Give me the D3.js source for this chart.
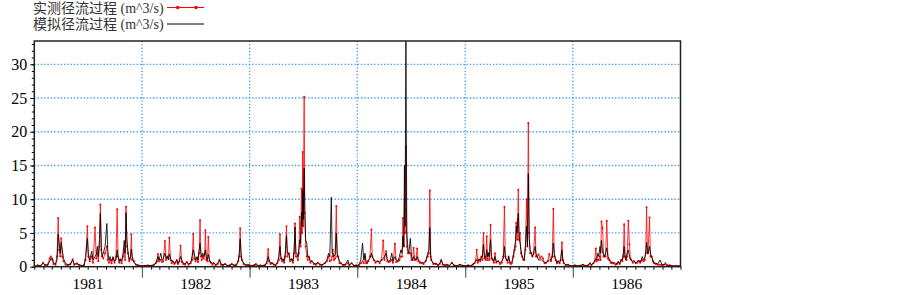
<!DOCTYPE html>
<html>
<head>
<meta charset="utf-8">
<script src="https://cdn.jsdelivr.net/npm/d3@7"></script>
<style>
body { margin: 0; background: #fff; }
</style>
</head>
<body>
<div id="chart"></div>
<script>

// rows: [day of year, observed (m^3/s), simulated (m^3/s)]
var year1981 = [[0,0.1,0.1],[12,0.2,0.1],[22,0.1,0.2],[30,0.6,0.5],[36,0.2,0.3],[45,0.3,0.2],[52,1.2,0.8],[56,1.5,1.2],[61,1.0,1.3],[65,0.4,0.6],[72,0.3,0.4],[77,1.5,1.0],[81,7.2,4.8],[84,2.5,3.5],[88,1.5,2.0],[91,4.2,3.6],[95,1.5,2.5],[99,0.8,1.2],[106,0.3,0.5],[114,0.2,0.3],[122,0.4,0.3],[130,1.1,1.0],[135,0.3,0.4],[145,0.5,0.4],[152,0.2,0.3],[160,0.1,0.2],[168,0.2,0.1],[174,1.0,1.5],[180,6.0,4.2],[183,1.5,2.0],[188,0.8,1.0],[195,1.5,2.3],[199,0.6,1.0],[206,5.8,1.5],[210,1.2,1.8],[214,2.0,3.0],[217,0.8,1.5],[221,3.0,4.0],[224,9.2,7.9],[227,2.5,3.0],[230,1.5,1.5],[234,1.2,2.0],[240,2.0,3.0],[246,3.0,6.4],[249,1.0,2.5],[253,0.6,1.0],[257,1.0,1.5],[262,0.5,0.8],[267,1.2,1.5],[272,0.6,0.8],[277,1.5,1.0],[281,8.5,2.5],[284,1.5,1.5],[288,0.6,0.8],[291,1.0,1.2],[296,0.5,0.8],[301,1.5,2.0],[305,2.5,3.9],[308,1.0,2.0],[311,8.9,8.0],[314,3.0,4.0],[318,2.0,2.0],[322,0.8,1.0],[326,1.2,1.5],[329,4.8,2.6],[332,1.0,1.5],[338,0.8,0.6],[345,0.3,0.3],[352,0.2,0.2],[360,0.1,0.1]];
var year1982 = [[0,0.1,0.1],[10,0.1,0.2],[20,0.2,0.1],[30,0.1,0.2],[40,0.3,0.2],[47,0.5,0.6],[51,0.8,1.0],[54,1.9,1.5],[58,0.8,1.0],[61,1.0,1.5],[64,1.0,2.0],[68,0.7,1.0],[72,0.8,1.2],[78,3.8,2.0],[82,1.0,1.2],[86,1.5,1.5],[90,1.2,1.0],[93,4.3,1.9],[97,1.0,1.2],[101,0.5,0.8],[105,0.8,0.8],[110,0.4,0.5],[114,0.6,0.7],[118,1.0,1.0],[122,0.4,0.5],[127,0.8,0.8],[131,3.1,1.5],[135,0.7,1.0],[140,0.4,0.6],[146,0.3,0.4],[152,0.7,0.7],[158,0.3,0.4],[165,0.5,0.6],[170,1.0,1.5],[174,4.9,2.5],[177,1.2,2.0],[182,0.8,1.0],[187,1.2,1.5],[190,0.7,1.0],[194,2.0,2.5],[197,6.9,3.5],[200,1.5,2.0],[203,1.0,1.5],[206,1.5,2.0],[210,1.2,1.5],[213,2.0,2.0],[215,5.4,2.5],[218,1.0,1.5],[222,0.8,1.0],[225,4.4,1.8],[229,0.8,1.0],[234,0.6,0.6],[239,0.3,0.5],[243,0.5,0.6],[250,0.2,0.3],[257,0.4,0.5],[263,1.0,1.0],[268,0.3,0.4],[275,0.2,0.3],[282,0.4,0.4],[290,0.1,0.2],[298,0.2,0.2],[305,0.4,0.4],[312,0.2,0.2],[320,0.3,0.2],[327,0.8,1.0],[330,1.5,2.0],[333,5.7,4.1],[336,1.5,2.0],[339,1.0,1.0],[345,0.4,0.5],[352,0.2,0.3],[360,0.3,0.2]];
var year1983 = [[0,0.2,0.2],[8,0.1,0.1],[15,0.2,0.2],[21,0.3,0.5],[28,0.1,0.2],[36,0.2,0.1],[44,0.1,0.2],[52,0.2,0.2],[58,0.5,0.6],[63,2.6,1.5],[66,0.8,1.0],[71,0.4,0.5],[76,0.5,0.6],[82,0.3,0.4],[88,0.2,0.3],[94,0.5,0.6],[99,1.0,1.5],[103,4.8,3.0],[106,1.2,1.5],[110,0.8,1.0],[113,1.0,1.2],[117,0.6,0.8],[121,1.5,2.0],[125,6.0,4.6],[128,1.5,2.0],[133,2.0,2.0],[137,0.8,1.0],[143,1.0,1.2],[147,0.6,0.8],[151,2.0,2.5],[154,6.4,5.9],[157,1.5,2.0],[160,1.5,2.0],[164,1.0,1.5],[167,2.0,2.5],[170,7.4,4.0],[173,3.0,3.5],[176,11.6,8.0],[178,5.0,6.0],[180,17.0,11.4],[182,6.0,7.0],[185,25.2,14.6],[187,8.0,9.0],[190,3.0,4.0],[194,1.5,3.5],[197,1.0,1.5],[201,1.5,1.5],[206,0.6,0.8],[211,0.8,0.8],[218,0.4,0.5],[225,0.3,0.4],[231,0.6,0.6],[238,0.3,0.4],[245,0.2,0.3],[255,0.5,0.5],[262,0.8,1.0],[268,1.5,2.0],[272,0.8,1.5],[277,1.0,10.3],[280,1.5,2.0],[282,2.5,2.0],[286,1.0,1.5],[290,1.2,1.8],[294,9.0,5.0],[297,1.5,2.0],[300,1.5,1.5],[305,0.5,0.8],[309,0.5,0.6],[316,0.2,0.3],[324,0.3,0.3],[333,0.5,1.0],[338,0.2,0.3],[346,0.5,0.5],[354,0.1,0.2],[361,0.2,0.1]];
var year1984 = [[0,0.1,0.2],[6,0.2,0.3],[12,0.5,1.0],[18,0.8,3.5],[22,0.5,1.0],[26,1.5,2.0],[30,0.5,0.8],[33,0.5,0.6],[38,0.8,1.0],[43,1.5,1.2],[48,5.5,2.0],[51,1.5,1.5],[56,1.0,1.0],[62,0.6,0.8],[70,0.8,0.8],[76,0.5,0.7],[82,1.0,1.0],[88,3.9,1.2],[92,1.0,1.5],[98,2.3,2.0],[102,0.8,1.0],[107,0.7,0.8],[112,0.8,1.0],[117,1.0,2.0],[121,0.6,0.8],[128,3.4,1.5],[132,0.7,1.0],[138,0.8,0.8],[143,1.0,1.5],[148,1.5,2.5],[152,1.5,2.0],[155,7.2,4.5],[158,3.0,3.0],[160,10.0,15.0],[162,5.0,6.0],[165,17.8,33.4],[168,3.0,5.0],[172,2.0,2.5],[175,2.0,2.0],[180,2.0,4.2],[184,1.0,1.5],[188,1.0,1.0],[191,2.8,1.5],[195,1.0,1.2],[199,1.0,1.0],[203,2.7,1.5],[207,0.8,1.0],[212,0.6,0.8],[218,0.5,0.6],[225,0.4,0.6],[232,0.8,0.8],[239,1.5,2.0],[243,2.0,2.5],[246,11.3,5.8],[249,1.5,1.5],[251,1.0,1.0],[258,0.4,0.5],[266,0.4,0.5],[274,0.2,0.3],[280,0.4,0.5],[285,1.0,1.0],[290,0.3,0.4],[297,0.2,0.2],[304,0.3,0.3],[312,0.1,0.2],[321,0.6,0.6],[328,0.2,0.2],[336,0.1,0.1],[348,0.3,0.3],[358,0.1,0.2]];
var year1985 = [[0,0.1,0.1],[10,0.2,0.2],[18,0.1,0.1],[26,0.3,0.4],[32,0.5,0.6],[36,1.0,0.8],[39,2.5,1.0],[43,0.6,0.8],[47,1.0,1.2],[51,0.8,1.0],[55,1.5,1.5],[58,1.0,1.5],[62,5.0,3.3],[65,1.2,1.5],[67,1.5,1.5],[70,1.0,1.2],[73,4.5,2.5],[76,1.0,1.5],[79,2.0,2.0],[82,1.0,1.5],[86,6.2,4.0],[89,1.2,1.5],[93,1.0,1.2],[97,0.6,0.8],[101,2.0,1.5],[105,0.6,0.8],[112,0.8,0.8],[118,0.4,0.6],[124,0.6,0.8],[129,1.5,1.2],[133,8.9,3.0],[136,1.5,1.5],[140,1.0,1.0],[144,0.6,0.8],[147,1.5,1.5],[151,0.6,0.8],[155,0.4,0.6],[159,0.6,0.8],[164,1.5,2.0],[168,2.5,3.0],[171,3.0,4.0],[173,6.5,6.0],[176,4.0,5.0],[178,7.0,6.5],[180,11.4,7.9],[183,4.0,4.0],[186,5.0,3.5],[189,2.0,2.5],[193,1.5,1.5],[197,1.0,1.2],[200,1.0,1.0],[204,2.5,3.0],[208,10.0,6.0],[211,3.0,3.0],[214,21.3,13.8],[217,5.0,4.0],[220,2.0,2.5],[224,2.0,2.0],[228,1.5,1.5],[232,2.0,2.0],[237,5.8,3.0],[240,1.5,2.0],[244,1.5,1.5],[249,1.8,1.0],[254,1.3,1.0],[259,1.5,1.0],[264,1.2,0.8],[269,0.5,0.6],[274,0.6,0.6],[280,0.8,0.8],[285,1.9,1.0],[291,0.8,1.0],[295,1.5,1.5],[299,8.6,3.5],[302,1.5,2.0],[307,1.0,1.0],[311,0.5,0.6],[315,0.8,0.8],[320,0.5,0.6],[324,1.0,1.2],[328,3.6,2.5],[331,1.0,1.0],[334,0.5,0.6],[341,0.2,0.3],[349,0.3,0.3],[357,0.1,0.1]];
var year1986 = [[0,0.1,0.1],[7,0.2,0.2],[15,0.1,0.1],[24,0.1,0.2],[35,0.3,0.3],[44,0.1,0.1],[52,0.2,0.2],[58,0.5,0.5],[63,0.2,0.3],[70,0.5,0.6],[74,0.8,0.8],[78,2.7,1.2],[81,0.8,1.0],[85,1.0,2.0],[88,1.0,1.5],[92,1.5,3.0],[94,1.0,2.0],[97,6.7,3.9],[101,5.7,2.0],[104,1.5,2.0],[107,1.5,1.5],[111,1.5,2.0],[115,6.8,2.8],[119,1.2,1.5],[123,1.0,1.2],[128,0.6,0.8],[132,0.5,0.7],[137,0.5,0.6],[145,0.3,0.5],[150,0.4,0.5],[154,0.6,0.8],[159,0.4,0.5],[164,1.0,1.0],[168,0.8,1.0],[171,1.5,2.0],[174,6.3,3.0],[177,1.5,1.5],[179,1.4,1.0],[182,1.0,1.5],[184,1.5,2.0],[188,6.8,2.5],[192,3.3,1.5],[195,1.2,1.2],[198,1.0,1.0],[203,0.6,0.8],[208,0.8,0.8],[213,0.5,0.6],[218,0.6,0.7],[223,0.8,1.0],[228,0.6,0.7],[232,0.8,1.0],[235,1.0,1.5],[240,0.8,1.0],[244,1.0,1.5],[247,2.0,2.0],[250,8.8,3.6],[253,2.0,2.0],[255,2.0,2.0],[260,7.3,3.0],[263,1.5,2.0],[267,1.5,1.5],[271,0.8,1.0],[275,0.5,0.6],[281,0.4,0.5],[288,0.3,0.4],[296,0.3,1.0],[302,0.2,0.3],[308,0.3,0.3],[314,0.5,0.3],[320,0.2,0.2],[329,0.2,0.2],[338,0.1,0.1],[347,0.1,0.1],[356,0.1,0.1],[364,0.1,0.1]];

var years = [1981, 1982, 1983, 1984, 1985, 1986];
var yearRows = [year1981, year1982, year1983, year1984, year1985, year1986];
var yTickValues = [0, 5, 10, 15, 20, 25, 30];
var legendLabels = ["实测径流过程 (m^3/s)", "模拟径流过程 (m^3/s)"];

// set the dimensions and margins of the graph
var margin = {top: 41, right: 222.5, bottom: 28.3, left: 34.3},
    width = 903 - margin.left - margin.right,
    height = 295 - margin.top - margin.bottom;

var serif = "'Liberation Serif','Times New Roman','Noto Sans CJK SC',serif";

var svgRoot = d3.select("#chart")
    .append("svg")
    .attr("width", 903)
    .attr("height", 295);

var svg = svgRoot.append("g")
    .attr("transform", "translate(" + margin.left + "," + margin.top + ")");

// flatten year tables into dated rows
var data = [];
years.forEach(function(yr, i) {
    yearRows[i].forEach(function(r) {
        data.push({date: d3.timeDay.offset(new Date(yr, 0, 1), r[0]), obs: r[1], sim: r[2]});
    });
});

var x = d3.scaleTime()
    .domain([new Date(1981, 0, 1), new Date(1987, 0, 1)])
    .range([0, width]);

var y = d3.scaleLinear()
    .domain([0, 33.45])
    .range([height, 0]);

// grid lines
var gridStyle = function(sel) {
    sel.attr("stroke", "#3a98ff")
       .attr("stroke-width", 1.3)
       .attr("stroke-dasharray", "1.3,2");
};
svg.append("g").selectAll("line")
    .data(yTickValues.slice(1))
    .enter().append("line")
    .attr("x1", 0).attr("x2", width)
    .attr("y1", function(d) { return y(d); })
    .attr("y2", function(d) { return y(d); })
    .call(gridStyle);

svg.append("g").selectAll("line")
    .data(years.slice(1))
    .enter().append("line")
    .attr("x1", function(d) { return x(new Date(d, 0, 1)); })
    .attr("x2", function(d) { return x(new Date(d, 0, 1)); })
    .attr("y1", 0).attr("y2", height)
    .call(gridStyle);

// clip for the series
svg.append("clipPath").attr("id", "clip")
    .append("rect").attr("width", width).attr("height", height);

var plot = svg.append("g").attr("clip-path", "url(#clip)");

// observed (red) underneath, simulated (black) over it
plot.append("path")
    .datum(data)
    .attr("fill", "none")
    .attr("stroke", "#ff0000")
    .attr("stroke-opacity", 0.8)
    .attr("stroke-width", 1)
    .attr("d", d3.line()
        .x(function(d) { return x(d.date); })
        .y(function(d) { return y(d.obs); }));

plot.append("g").selectAll("circle")
    .data(data)
    .enter().append("circle")
    .attr("cx", function(d) { return x(d.date); })
    .attr("cy", function(d) { return y(d.obs); })
    .attr("r", 1)
    .attr("fill", "#ff0000");

plot.append("path")
    .datum(data)
    .attr("fill", "none")
    .attr("stroke", "#000")
    .attr("stroke-opacity", 0.85)
    .attr("stroke-width", 1)
    .attr("d", d3.line()
        .x(function(d) { return x(d.date); })
        .y(function(d) { return y(d.sim); }));

// y axis: major and minor ticks
var yAxis = svg.append("g")
    .call(d3.axisLeft(y).tickValues(yTickValues).tickSize(4).tickPadding(3));
yAxis.select(".domain").remove();
yAxis.selectAll("text")
    .style("font-family", serif)
    .style("font-size", "16px")
    .attr("fill", "#000");
svg.append("g")
    .call(d3.axisLeft(y).tickValues(d3.range(0, 34, 1)).tickSize(2.5).tickFormat(""))
    .select(".domain").remove();

// x axis: month ticks, year ticks, year labels
var xMonths = svg.append("g")
    .attr("transform", "translate(0," + height + ")")
    .call(d3.axisBottom(x).ticks(d3.timeMonth.every(1)).tickSize(3).tickFormat(""));
xMonths.select(".domain").remove();

var xYears = svg.append("g")
    .attr("transform", "translate(0," + height + ")")
    .call(d3.axisBottom(x).tickValues(years.slice(1).map(function(d) { return new Date(d, 0, 1); }))
        .tickSize(11).tickFormat(""));
xYears.select(".domain").remove();
xYears.selectAll("line").attr("stroke", "#666").attr("stroke-width", 1.2);

svg.append("g").selectAll("text")
    .data(years)
    .enter().append("text")
    .attr("x", function(d) { return (x(new Date(d, 0, 1)) + x(new Date(d + 1, 0, 1))) / 2; })
    .attr("y", height + 22.5)
    .attr("text-anchor", "middle")
    .style("font-family", serif)
    .style("font-size", "15.5px")
    .attr("fill", "#000")
    .text(function(d) { return d; });

// frame
svg.append("rect")
    .attr("width", width)
    .attr("height", height)
    .attr("fill", "none")
    .attr("stroke", "#222")
    .attr("stroke-width", 1.5);

// legend
var legend = svgRoot.append("g");
legendLabels.forEach(function(label, i) {
    var ly = 7.5 + i * 16.5;
    legend.append("text")
        .attr("x", 33)
        .attr("y", ly + 5)
        .style("font-family", serif)
        .style("font-size", "14px")
        .attr("fill", "#333")
        .text(label);
    legend.append("line")
        .attr("x1", 167).attr("x2", 204)
        .attr("y1", ly).attr("y2", ly)
        .attr("stroke", i === 0 ? "#ff0000" : "#000")
        .attr("stroke-width", 1);
    if (i === 0) {
        legend.selectAll(".lm")
            .data([177.7, 196])
            .enter().append("circle")
            .attr("cx", function(d) { return d; })
            .attr("cy", ly)
            .attr("r", 1.8)
            .attr("fill", "#ff0000");
    }
});

</script>
</body>
</html>
